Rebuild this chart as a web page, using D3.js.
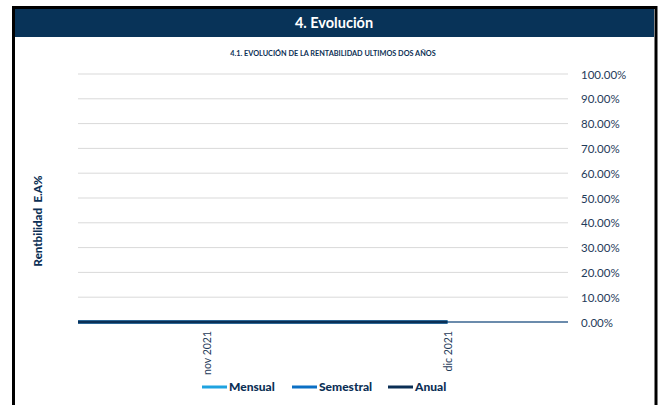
<!DOCTYPE html>
<html><head><meta charset="utf-8">
<script src="https://cdn.jsdelivr.net/npm/d3@7/dist/d3.min.js"></script>
<style>body{margin:0;background:#fff}svg{display:block;font-family:Lato,"Open Sans",sans-serif}</style>
</head><body>
<script>
// Data
const dates = ["2021-10-16", "2021-11-01", "2021-12-01"];
const mensual = [0, 0, 0];
const semestral = [0, 0, 0];
const anual = [0, 0, 0];
const xTickDates = ["2021-11-01", "2021-12-01"];
const xTickLabels = ["nov 2021", "dic 2021"];
const yTicks = [0, 0.1, 0.2, 0.3, 0.4, 0.5, 0.6, 0.7, 0.8, 0.9, 1.0];
const seriesNames = ["Mensual", "Semestral", "Anual"];
const seriesColors = ["#1fa3e0", "#0b6fc4", "#0b2f55"];

const W = 658, H = 405;
const svg = d3.select("body").append("svg").attr("width", W).attr("height", H);
const parse = d3.timeParse("%Y-%m-%d");

// frame
svg.append("rect").attr("x", 0).attr("y", 0).attr("width", W).attr("height", H).attr("fill", "#fff");
svg.append("rect").attr("x", 13.5).attr("y", 7.5).attr("width", 642.5).attr("height", 400).attr("fill", "none").attr("stroke", "#000").attr("stroke-width", 3);
svg.append("rect").attr("x", 15).attr("y", 9).attr("width", 639).attr("height", 28).attr("fill", "#083358");
svg.append("text").attr("x", 334).attr("y", 28).attr("text-anchor", "middle").attr("fill", "#fff")
  .attr("font-weight", "bold").attr("font-size", 14.5).text("4. Evolución");
svg.append("text").attr("x", 333).attr("y", 56).attr("text-anchor", "middle").attr("fill", "#0b2f55")
  .attr("font-weight", "bold").attr("font-size", 7.3).text("4.1. EVOLUCIÓN DE LA RENTABILIDAD ULTIMOS DOS AÑOS");

const x = d3.scaleTime().domain([parse("2021-10-16"), parse("2021-12-16")]).range([78, 568]);
const y = d3.scaleLinear().domain([0, 1]).range([322, 74]);

// grid
svg.append("g").selectAll("line").data(yTicks.filter(d => d > 0)).join("line")
  .attr("x1", 78).attr("x2", 568).attr("y1", d => y(d)).attr("y2", d => y(d))
  .attr("stroke", "#d9d9d9").attr("stroke-width", 1);

// y axis labels (right)
const yAxis = d3.axisRight(y).tickValues(yTicks).tickFormat(d => d3.format(".2f")(d * 100) + "%").tickSize(0).tickPadding(0);
const gy = svg.append("g").attr("transform", "translate(581,0)").call(yAxis);
gy.select(".domain").remove();
gy.selectAll("text").attr("fill", "#1f3b5a").attr("font-size", 11.5).attr("font-family", "Lato,'Open Sans',sans-serif").attr("dy", "0.35em");

// y title
svg.append("text").attr("transform", "translate(42,221) rotate(-90)").attr("text-anchor", "middle")
  .attr("fill", "#0b2f55").attr("font-weight", "900").attr("font-size", 11.5).attr("xml:space", "preserve").text("Rentbilidad  E.A%");

// x axis line
svg.append("line").attr("x1", 78).attr("x2", 568).attr("y1", y(0)).attr("y2", y(0))
  .attr("stroke", "#3a6590").attr("stroke-width", 1.5);

// x tick labels
const xAxis = d3.axisBottom(x).tickValues(xTickDates.map(parse)).tickFormat((d, i) => xTickLabels[i]).tickSize(0);
const gx = svg.append("g").attr("transform", `translate(0,${y(0)})`).call(xAxis);
gx.select(".domain").remove();
gx.selectAll("text").attr("fill", "#1f3b5a").attr("font-size", 10.5).attr("font-family", "Lato,'Open Sans',sans-serif")
  .attr("transform", "rotate(-90)").attr("text-anchor", "end").attr("x", -9).attr("y", 0).attr("dy", "0.35em");

// series lines
const allSeries = [mensual, semestral, anual];
const line = d3.line().x(d => x(d.date)).y(d => y(d.v));
allSeries.forEach((vals, i) => {
  const pts = dates.map((d, j) => ({date: parse(d), v: vals[j]}));
  svg.append("path").datum(pts).attr("d", line).attr("fill", "none")
    .attr("stroke", seriesColors[i]).attr("stroke-width", 3);
});

// legend
const legendX = [202, 292, 388];
seriesNames.forEach((n, i) => {
  const g = svg.append("g").attr("transform", `translate(${legendX[i]},387)`);
  g.append("line").attr("x1", 0).attr("x2", 25).attr("y1", 0).attr("y2", 0).attr("stroke", seriesColors[i]).attr("stroke-width", 3);
  g.append("text").attr("x", 27).attr("y", 0).attr("dy", "0.35em").attr("fill", "#0b2f55").attr("font-weight", "900").attr("font-size", 12).text(n);
});
</script>
</body></html>
